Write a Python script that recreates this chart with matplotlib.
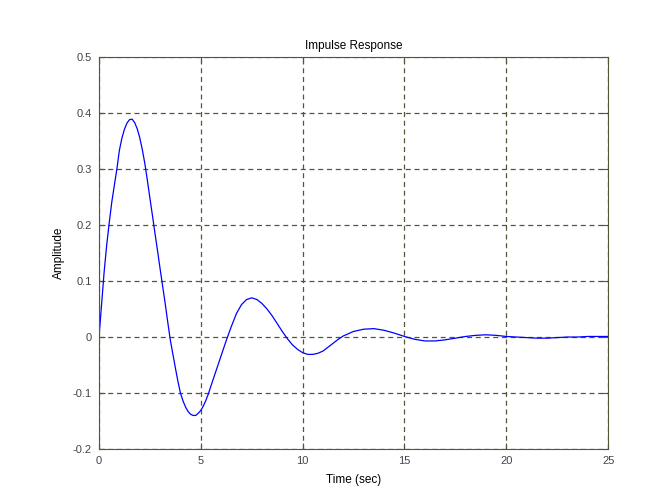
import numpy as np
import matplotlib.pyplot as plt

# values
t = [0, 0.125, 0.25, 0.375, 0.5, 0.625, 0.75, 0.875, 1.0, 1.125, 1.25, 1.375,
     1.5, 1.625, 1.75, 1.875, 2.0, 2.125, 2.25, 2.375, 2.5, 2.625, 2.75, 2.875,
     3.0, 3.125, 3.25, 3.375, 3.5, 3.625, 3.75, 3.875, 4.0, 4.125, 4.25, 4.375,
     4.5, 4.625, 4.75, 4.875, 5.0, 5.125, 5.25, 5.375, 5.5, 5.75, 6.0, 6.25,
     6.5, 6.75, 7.0, 7.25, 7.5, 7.75, 8.0, 8.25, 8.5, 8.75, 9.0, 9.25, 9.5,
     9.75, 10.0, 10.25, 10.5, 10.75, 11.0, 11.25, 11.5, 11.75, 12.0, 12.5,
     13.0, 13.5, 14.0, 14.5, 15.0, 15.5, 16.0, 16.5, 17.0, 17.5, 18.0, 18.5,
     19.0, 19.5, 20.0, 20.5, 21.0, 21.5, 22.0, 22.5, 23.0, 23.5, 24.0, 24.5, 25.0]
amp = [0, 0.057, 0.115, 0.163, 0.203, 0.240, 0.270, 0.299, 0.333, 0.355, 0.371,
       0.382, 0.388, 0.389, 0.383, 0.372, 0.356, 0.335, 0.310, 0.280, 0.248,
       0.217, 0.185, 0.154, 0.122, 0.091, 0.060, 0.027, -0.005, -0.030,
       -0.055, -0.079, -0.100, -0.114, -0.125, -0.133, -0.138, -0.140, -0.140,
       -0.136, -0.131, -0.123, -0.113, -0.101, -0.087, -0.060, -0.033, -0.006,
       0.019, 0.042, 0.058, 0.067, 0.070, 0.067, 0.060, 0.050, 0.038, 0.024,
       0.010, -0.003, -0.014, -0.022, -0.028, -0.031, -0.031, -0.029, -0.025,
       -0.018, -0.011, -0.004, 0.002, 0.010, 0.014, 0.015, 0.012, 0.007, 0.001,
       -0.004, -0.007, -0.007, -0.005, -0.002, 0.001, 0.003, 0.004, 0.003,
       0.001, 0.000, -0.001, -0.002, -0.002, -0.001, 0.000, 0.000, 0.001,
       0.001, 0.001]

x_ticks = [0, 5, 10, 15, 20, 25]
y_ticks = [-0.2, -0.1, 0, 0.1, 0.2, 0.3, 0.4, 0.5]
y_labels = ["-0.2", "-0.1", "0", "0.1", "0.2", "0.3", "0.4", "0.5"]

ax_col = "#55553a"
plt.rcParams['font.family'] = ['Liberation Sans', 'DejaVu Sans']

fig = plt.figure(figsize=(6.72, 5.04), dpi=100)
ax = fig.add_axes([0.1473, 0.109, 0.7577, 0.778])
ax.plot(t, amp, color="blue", linewidth=0.9)

ax.set_xlim(0, 25)
ax.set_ylim(-0.2, 0.5)
ax.set_xticks(x_ticks)
ax.set_yticks(y_ticks)
ax.set_yticklabels(y_labels)
ax.grid(True, color=ax_col, linestyle=(0, (4, 3)), linewidth=0.9)
ax.tick_params(direction="in", top=True, right=True, length=4, colors=ax_col,
               labelsize=8, labelcolor="#444444", pad=5)
for s in ax.spines.values():
    s.set_color(ax_col)

ax.set_title("Impulse Response", fontsize=8.5, pad=6)
ax.set_xlabel("Time (sec)", fontsize=8.5, labelpad=6)
ax.set_ylabel("Amplitude", fontsize=8.5, labelpad=6)

fig.savefig("out.png", dpi=100)
